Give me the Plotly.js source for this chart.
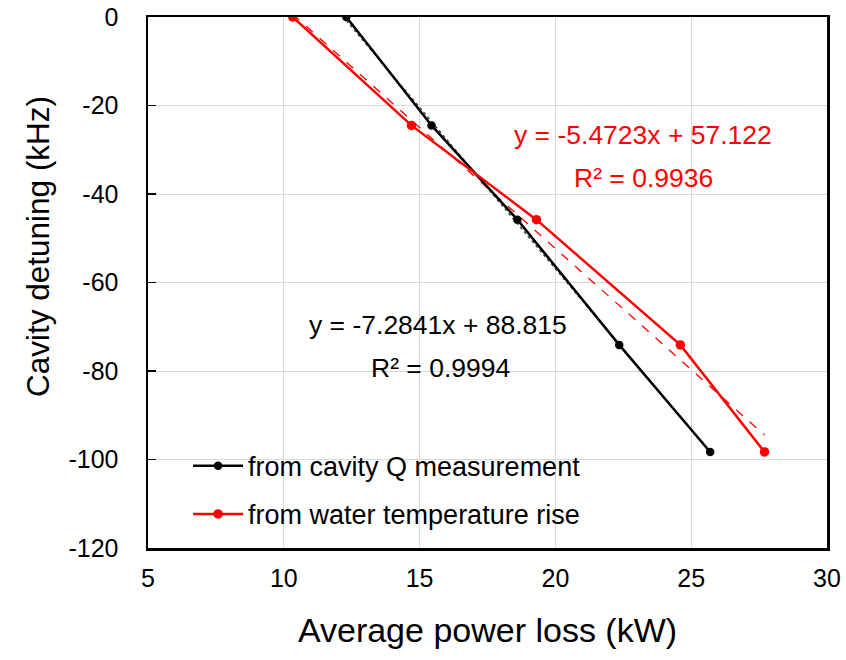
<!DOCTYPE html>
<html><head><meta charset="utf-8">
<script src="https://cdn.plot.ly/plotly-3.0.1.min.js"></script>
<style>html,body{margin:0;padding:0;background:#fff;}#chart{width:846px;height:660px;}</style>
</head><body><div id="chart"></div>
<script>
// Data
const cavityQ_x = [12.3, 15.44, 18.6, 22.35, 25.7];
const cavityQ_y = [0, -24.5, -45.8, -74.1, -98.3];
const water_x = [10.33, 14.7, 19.3, 24.6, 27.7];
const water_y = [0, -24.5, -45.8, -74.1, -98.3];
const seriesNames = ["from cavity Q measurement", "from water temperature rise"];
// Linear trend equations as printed on the chart
const fitQ = [-7.2841, 88.815];
const fitW = [-5.4723, 57.122];
const eqLabels = ["y = -7.2841x + 88.815", "R² = 0.9994", "y = -5.4723x + 57.122", "R² = 0.9936"];
const xTicks = [5, 10, 15, 20, 25, 30];
const xTickText = ["5", "10", "15", "20", "25", "30"];
const yTicks = [0, -20, -40, -60, -80, -100, -120];
const yTickText = ["0", "-20", "-40", "-60", "-80", "-100", "-120"];
const xTitle = 'Average power loss (kW)';
const yTitle = 'Cavity detuning (kHz)';

function trend(xs, f) {
  const x0 = Math.min(...xs), x1 = Math.max(...xs);
  return {x: [x0, x1], y: [f[0]*x0 + f[1], f[0]*x1 + f[1]]};
}
const tQ = trend(cavityQ_x, fitQ), tW = trend(water_x, fitW);

const font = "Arial, 'Liberation Sans', sans-serif";
const traces = [
  {x: tQ.x, y: tQ.y, mode: 'lines', line: {color: '#444', width: 1.5, dash: 'dot'}, showlegend: false, hoverinfo: 'skip'},
  {x: tW.x, y: tW.y, mode: 'lines', line: {color: '#ff0000', width: 1.3, dash: 'dash'}, showlegend: false, hoverinfo: 'skip'},
  {x: cavityQ_x, y: cavityQ_y, name: seriesNames[0], mode: 'lines+markers', legendgroup: 'a',
   line: {color: '#000', width: 2.5}, marker: {color: '#000', size: 8.5}},
  {x: water_x, y: water_y, name: seriesNames[1], mode: 'lines+markers', legendgroup: 'b',
   line: {color: '#ff0000', width: 2.5}, marker: {color: '#ff0000', size: 9.5}}
];

function ann(px, py, text, color) {
  return {xref: 'paper', yref: 'paper', x: (px-148)/679, y: (548-py)/531, xanchor: 'center', yanchor: 'middle',
          text: text, showarrow: false, font: {size: 26.5, color: color}};
}

const layout = {
  width: 846, height: 660,
  margin: {l: 148, r: 19, t: 17, b: 112},
  paper_bgcolor: '#fff', plot_bgcolor: '#fff',
  font: {family: font, color: '#000', size: 25},
  showlegend: true,
  legend: {x: 0.059, y: 0.2, xanchor: 'left', yanchor: 'top', bgcolor: 'rgba(0,0,0,0)', itemwidth: 50,
           font: {family: font, size: 27, color: '#000'}, tracegroupgap: 10, traceorder: 'grouped'},
  xaxis: {range: [5, 30], tickvals: xTicks, ticktext: xTickText, showgrid: true, gridcolor: '#d9d9d9', gridwidth: 1,
          zeroline: false, showline: true, linecolor: '#000', linewidth: 2.5, mirror: true,
          ticks: '', ticklabelstandoff: 6, tickfont: {size: 25},
          title: {text: xTitle, font: {size: 34}, standoff: 28}},
  xaxis2: {range: [5, 30], tickvals: xTicks, overlaying: 'x', side: 'top', anchor: 'y', showgrid: false,
           zeroline: false, showline: false, showticklabels: false, ticks: 'inside', ticklen: 8,
           tickcolor: '#000', tickwidth: 1.5},
  yaxis: {range: [-120, 0], tickvals: yTicks, ticktext: yTickText, showgrid: true, gridcolor: '#d9d9d9', gridwidth: 1,
          zeroline: false, showline: true, linecolor: '#000', linewidth: 2.5, mirror: true,
          ticks: 'inside', ticklen: 8, tickcolor: '#000', tickwidth: 1.5, ticklabelstandoff: 22, tickfont: {size: 25}},
  annotations: [
    ann(438, 325, eqLabels[0], '#000'),
    ann(440, 368, eqLabels[1], '#000'),
    ann(643, 135, eqLabels[2], '#ff0000'),
    ann(643, 178, eqLabels[3], '#ff0000'),
    {xref: 'paper', yref: 'paper', x: (38-148)/679, y: (548-247)/531, xanchor: 'center', yanchor: 'middle',
     textangle: -90, text: yTitle, showarrow: false, font: {size: 31.5, color: '#000'}}
  ]
};
Plotly.newPlot('chart', traces, layout, {displayModeBar: false, staticPlot: true});
</script></body></html>
